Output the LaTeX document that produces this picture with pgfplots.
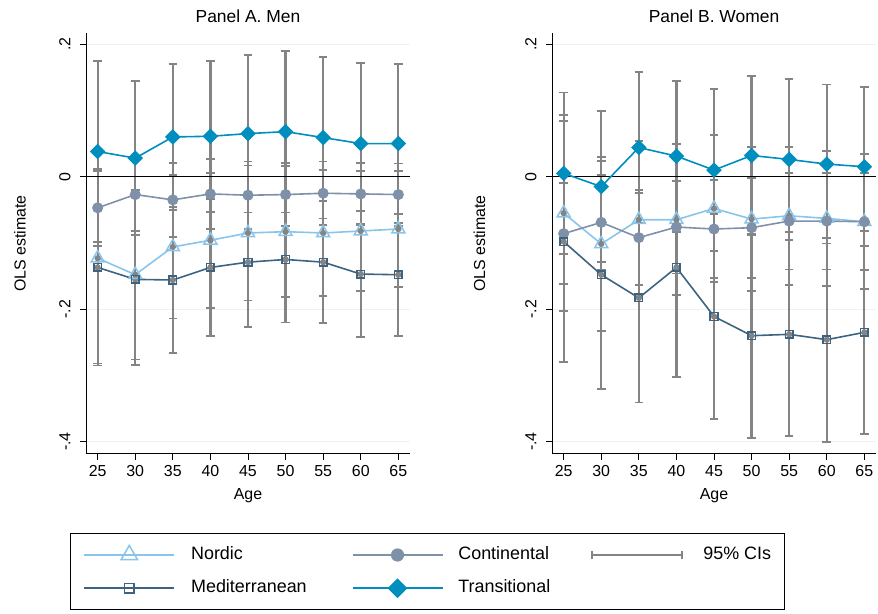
\documentclass[border=0pt]{standalone}
\usepackage{fontspec}
\setmainfont{Liberation Sans}
\usepackage{pgfplots}
\usepackage{pgfplotstable}
\pgfplotsset{compat=1.18}
\definecolor{nordic}{RGB}{137,196,235}
\definecolor{contin}{RGB}{127,145,168}
\definecolor{medit}{RGB}{60,100,130}
\definecolor{trans}{RGB}{0,142,190}
\definecolor{cigray}{RGB}{132,132,132}
\definecolor{gridc}{RGB}{234,242,243}

\pgfplotstableread{
age nor norhw con conhw med medhw tra trahw
25 -0.123 0.162 -0.047 0.058 -0.137 0.145 0.038 0.137
30 -0.148 0.128 -0.027 0.055 -0.155 0.129 0.028 0.116
35 -0.106 0.108 -0.035 0.056 -0.156 0.110 0.060 0.110
40 -0.096 0.102 -0.026 0.053 -0.137 0.103 0.061 0.114
45 -0.085 0.102 -0.028 0.051 -0.129 0.098 0.065 0.119
50 -0.083 0.099 -0.027 0.048 -0.125 0.095 0.068 0.122
55 -0.085 0.095 -0.025 0.048 -0.129 0.092 0.059 0.122
60 -0.082 0.091 -0.026 0.047 -0.147 0.095 0.050 0.121
65 -0.079 0.088 -0.027 0.047 -0.148 0.092 0.050 0.120
}\men

\pgfplotstableread{
age nor norhw con conhw med medhw tra trahw
25 -0.055 0.148 -0.086 0.076 -0.098 0.182 0.005 0.122
30 -0.1015 0.1315 -0.069 0.0715 -0.148 0.172 -0.015 0.114
35 -0.065 0.119 -0.092 0.072 -0.183 0.158 0.044 0.114
40 -0.065 0.114 -0.076 0.070 -0.137 0.165 0.031 0.114
45 -0.048 0.111 -0.079 0.074 -0.211 0.155 0.010 0.122
50 -0.064 0.109 -0.077 0.0755 -0.240 0.154 0.032 0.120
55 -0.059 0.104 -0.067 0.073 -0.238 0.154 0.026 0.121
60 -0.063 0.102 -0.067 0.073 -0.246 0.154 0.019 0.120
65 -0.068 0.102 -0.068 0.073 -0.235 0.153 0.015 0.120
}\women

\pgfplotsset{
  nordicS/.style={nordic, line width=1.6bp, mark=triangle, mark size=7.5bp, mark options={solid, line width=1.5bp}},
  continS/.style={contin, line width=1.6bp, mark=*, mark size=4.7bp, mark options={solid}},
  meditS/.style={medit, line width=1.6bp, mark=square, mark size=3.8bp, mark options={solid, line width=1.5bp}},
  transS/.style={trans, line width=1.6bp, mark=square*, mark size=4.7bp, mark options={solid, rotate=45}},
  every error bar/.append style={line width=2.2bp},
  ciS/.style={forget plot, only marks, mark=none, draw=cigray, color=cigray, line width=2.2bp,
    error bars/.cd, y dir=both, y explicit, error mark=|,
    error bar style={draw=cigray, line width=2.2bp},
    error mark options={draw=cigray, line width=1.8bp, mark size=4.3bp}},
  panel/.style={
    scale only axis, width=324bp, height=421bp,
    xmin=23.45, xmax=66.55, ymin=-0.4186, ymax=0.2169,
    axis x line*=bottom, axis y line*=left,
    axis line style={line width=1bp, black},
    xtick={25,30,...,65}, ytick={-0.4,-0.2,0,0.2}, yticklabels={-.4,-.2,0,.2},
    tick align=outside, major tick length=6bp, tick style={line width=1bp, black},
    minor tick num=0,
    ymajorgrids, major grid style={draw=gridc, line width=1bp},
    /pgf/number format/assume math mode=true,
    ticklabel style={font=\fontsize{16}{19}\selectfont},
    yticklabel style={rotate=90, anchor=south},
    yticklabel shift=6bp, xticklabel shift=2bp,
    every axis title/.style={at={(axis description cs:0.5,1)}, anchor=base, yshift=10.3bp, font=\fontsize{17.5}{21}\selectfont},
    every axis x label/.style={at={(axis description cs:0.5,0)}, anchor=base, yshift=-45bp, font=\fontsize{16}{19}\selectfont},
    xlabel={Age}, ylabel={OLS estimate},
    clip=false,
  },
}

\begin{document}
\begin{tikzpicture}
\path[use as bounding box] (0,0) rectangle (878bp,614bp);
\begin{axis}[panel, at={(86bp,160bp)}, anchor=south west,
  title={Panel A. Men},
  every axis y label/.style={at={(axis description cs:-0.204,0.5)}, anchor=center, rotate=90, font=\fontsize{16}{19}\selectfont},
  legend columns=3, legend cell align=left,
  legend image code/.code={\draw[mark repeat=2,mark phase=2,#1] plot coordinates {(0bp,0bp) (45bp,0bp) (90bp,0bp)};},
  legend style={at={(-0.0494,-0.1876)}, anchor=north west, draw=black, line width=1bp, fill=white,
    font=\fontsize{18}{21}\selectfont,
    inner xsep=13bp, inner ysep=12bp, row sep=16bp,
    nodes={inner sep=0bp, text height=13bp, text depth=4bp},
    /tikz/column 1/.style={column sep=16bp},
    /tikz/column 2/.style={column sep=45bp},
    /tikz/column 3/.style={column sep=15bp},
    /tikz/column 4/.style={column sep=41bp},
    /tikz/column 5/.style={column sep=20bp}},
]
\addplot[ciS] table[x=age, y=nor, y error=norhw] {\men};
\addplot[ciS] table[x=age, y=con, y error=conhw] {\men};
\addplot[ciS] table[x=age, y=med, y error=medhw] {\men};
\addplot[ciS] table[x=age, y=tra, y error=trahw] {\men};
\addplot[black, line width=1.2bp, forget plot] coordinates {(23.45,0) (66.55,0)};
\addplot[nordicS, forget plot] table[x=age, y=nor] {\men};
\addplot[continS, forget plot] table[x=age, y=con] {\men};
\addplot[meditS, forget plot] table[x=age, y=med] {\men};
\addplot[transS, forget plot] table[x=age, y=tra] {\men};
\addlegendimage{nordicS, mark size=9.5bp}
\addlegendentry{Nordic}
\addlegendimage{continS, mark size=5.8bp}
\addlegendentry{Continental}
\addlegendimage{legend image code/.code={\draw[cigray, line width=2bp] (0bp,-4.3bp)--(0bp,4.3bp) (0bp,0bp)--(90bp,0bp) (90bp,-4.3bp)--(90bp,4.3bp);}}
\addlegendentry{95\% CIs}
\addlegendimage{meditS, mark size=4.6bp}
\addlegendentry{Mediterranean}
\addlegendimage{transS, mark size=6.2bp}
\addlegendentry{Transitional}
\end{axis}

\begin{axis}[panel, at={(552bp,160bp)}, anchor=south west,
  title={Panel B. Women},
  every axis y label/.style={at={(axis description cs:-0.224,0.5)}, anchor=center, rotate=90, font=\fontsize{16}{19}\selectfont},
]
\addplot[ciS] table[x=age, y=nor, y error=norhw] {\women};
\addplot[ciS] table[x=age, y=con, y error=conhw] {\women};
\addplot[ciS] table[x=age, y=med, y error=medhw] {\women};
\addplot[ciS] table[x=age, y=tra, y error=trahw] {\women};
\addplot[black, line width=1.2bp, forget plot] coordinates {(23.45,0) (66.55,0)};
\addplot[nordicS, forget plot] table[x=age, y=nor] {\women};
\addplot[continS, forget plot] table[x=age, y=con] {\women};
\addplot[meditS, forget plot] table[x=age, y=med] {\women};
\addplot[transS, forget plot] table[x=age, y=tra] {\women};
\end{axis}
\end{tikzpicture}
\end{document}
